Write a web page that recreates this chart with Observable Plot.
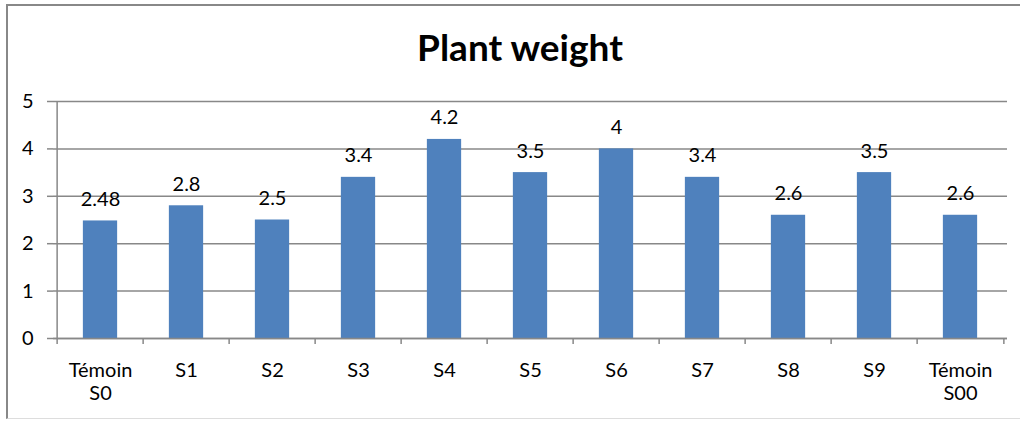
<!DOCTYPE html>
<html>
<head>
<meta charset="utf-8">
<script src="https://cdn.jsdelivr.net/npm/d3@7"></script>
<script src="https://cdn.jsdelivr.net/npm/@observablehq/plot@0.6"></script>
<style>
  html, body { margin: 0; padding: 0; background: #fff; }
  body { width: 1020px; height: 421px; overflow: hidden; position: relative; font-family: Lato, "Open Sans", sans-serif; }
  #frame {
    position: absolute; left: 6px; top: 4px; width: 1030px; height: 412px;
    border-left: 2px solid #888; border-top: 2px solid #888; border-bottom: 1px solid #ddd;
    z-index: 2; pointer-events: none;
  }
  #title {
    position: absolute; left: 0; top: 0; width: 1040px; height: 80px;
    text-align: center; font-weight: 700; font-size: 37px; line-height: 94px; color: #000;
  }
  #chart { position: absolute; left: 0; top: 80px; }
</style>
</head>
<body>
<div id="frame"></div>
<div id="title">Plant weight</div>
<div id="chart"></div>
<script>
// Plant weight per treatment
const categories = ["Témoin S0", "S1", "S2", "S3", "S4", "S5", "S6", "S7", "S8", "S9", "Témoin S00"];
const weights = [2.48, 2.8, 2.5, 3.4, 4.2, 3.5, 4, 3.4, 2.6, 3.5, 2.6];
const yTicks = [0, 1, 2, 3, 4, 5];

const data = categories.map((c, i) => ({category: c, weight: weights[i]}));

const width = 1020, height = 341;
const marginLeft = 53, marginRight = 13, marginTop = 21, marginBottom = 83;
const step = (width - marginLeft - marginRight) / categories.length;
const barWidth = 35;
const inset = (step - barWidth) / 2;
const grey = "#888";

const chart = Plot.plot({
  width, height, marginLeft, marginRight, marginTop, marginBottom,
  style: {fontFamily: "Lato, 'Open Sans', sans-serif", fontSize: "20px", color: "#000", background: "transparent"},
  x: {type: "band", domain: categories, padding: 0, label: null},
  y: {domain: [0, 5], label: null},
  marks: [
    Plot.gridY(yTicks, {stroke: grey, strokeOpacity: 1, strokeWidth: 1.5}),
    Plot.axisY(yTicks, {tickSize: 6, tickPadding: 14, stroke: grey, strokeWidth: 1.5, fontSize: 20, label: null}),
    Plot.barY(data, {x: "category", y: "weight", fill: "#4F81BD", insetLeft: inset, insetRight: inset}),
    Plot.ruleY([0], {stroke: grey, strokeWidth: 1.5}),
    Plot.ruleX([0], {x: () => categories[0], y1: 0, y2: 5, dx: -step / 2, stroke: grey, strokeWidth: 1.5}),
    // tick marks on the category boundaries below the baseline
    Plot.ruleX(categories, {x: d => d, y1: 0, y2: 0, insetBottom: -6, dx: -step / 2, stroke: grey, strokeWidth: 1.5}),
    Plot.ruleX([categories[categories.length - 1]], {x: d => d, y1: 0, y2: 0, insetBottom: -6, dx: step / 2, stroke: grey, strokeWidth: 1.5}),
    Plot.axisX({tickSize: 0, tickPadding: 22, fontSize: 20, tickFormat: d => d.replace(" ", "\n"), lineHeight: 1.15, label: null}),
    Plot.text(data, {x: "category", y: "weight", text: d => String(d.weight), dy: -15, lineAnchor: "bottom", fontSize: 20, fill: "#000"})
  ]
});
document.getElementById("chart").appendChild(chart);
</script>
</body>
</html>
